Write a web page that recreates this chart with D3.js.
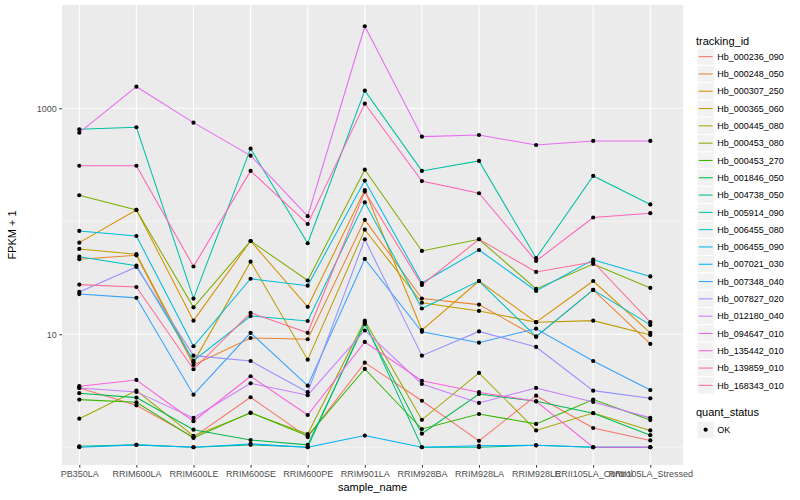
<html>

<head>
  <script src="https://d3js.org/d3.v7.min.js"></script>
  <style>
    body { margin: 0; background: white; }
    text { font-family: "Liberation Sans", Arial, sans-serif; }
  </style>
</head>

<body>
  <svg id="chart" width="800" height="500"></svg>

  <script>
    // ---- data (FPKM + 1) ----
    const samples = ["PB350LA", "RRIM600LA", "RRIM600LE", "RRIM600SE", "RRIM600PE", "RRIM901LA",
                     "RRIM928BA", "RRIM928LA", "RRIM928LE", "RRII105LA_Control", "RRII105LA_Stressed"];

    const trackingIds = ["Hb_000236_090", "Hb_000248_050", "Hb_000307_250", "Hb_000365_060", "Hb_000445_080",
                         "Hb_000453_080", "Hb_000453_270", "Hb_001846_050", "Hb_004738_050", "Hb_005914_090",
                         "Hb_006455_080", "Hb_006455_090", "Hb_007021_030", "Hb_007348_040", "Hb_007827_020",
                         "Hb_012180_040", "Hb_094647_010", "Hb_135442_010", "Hb_139859_010", "Hb_168343_010"];

    const hb000236_090 = [3.35, 2.35, 1.23, 2.77, 1.23, 5.61, 2.58, 1.14, 2.86, 1.48, 1.15];
    const hb000248_050 = [46.1, 50.0, 5.35, 9.27, 9.03, 103, 20.7, 18.3, 9.52, 24.7, 8.21];
    const hb000307_250 = [64.7, 126, 13.2, 66.9, 17.5, 189, 10.9, 29.6, 12.8, 29.6, 10.3];
    const hb000365_060 = [56.9, 51.1, 5.65, 43.9, 5.96, 84.3, 19.0, 16.1, 12.8, 13.2, 9.86];
    const hb000445_080 = [1.79, 3.17, 1.26, 2.01, 1.31, 13.2, 1.75, 4.55, 1.41, 2.01, 1.41];
    const hb000453_080 = [170, 126, 17.3, 66.9, 29.9, 286, 54.6, 69.3, 25.2, 41.9, 25.7];
    const hb000453_270 = [2.64, 2.50, 1.21, 2.03, 1.26, 4.93, 1.45, 1.97, 1.61, 2.64, 1.74];
    const hb001846_050 = [3.01, 2.75, 1.43, 1.16, 1.05, 12.3, 1.32, 2.96, 2.55, 2.00, 1.28];
    const hb004738_050 = [1.02, 1.05, 1.00, 1.05, 1.00, 12.8, 1.00, 1.00, 1.04, 1.00, 1.00];
    const hb005914_090 = [652, 679, 20.7, 439, 63.9, 1432, 279, 342, 47.3, 252, 141];
    const hb006455_080 = [48.6, 40.5, 5.84, 14.5, 13.1, 147, 16.9, 29.6, 9.52, 24.7, 12.1];
    const hb006455_090 = [82.1, 74.1, 7.83, 31.0, 26.9, 229, 28.4, 55.7, 24.2, 45.7, 32.5];
    const hb007021_030 = [1.00, 1.05, 1.00, 1.07, 1.00, 1.27, 1.00, 1.03, 1.04, 1.00, 1.00];
    const hb007348_040 = [22.7, 21.0, 2.92, 10.3, 3.51, 46.4, 10.5, 8.43, 11.2, 5.80, 3.21];
    const hb007827_020 = [23.7, 39.4, 6.47, 5.80, 3.07, 69.3, 6.47, 10.6, 7.72, 3.17, 2.71];
    const hb012180_040 = [3.35, 3.09, 1.82, 3.68, 2.89, 10.8, 3.63, 2.47, 3.35, 2.52, 1.82];
    const hb094647_010 = [608, 1552, 746, 381, 111, 5321, 561, 580, 473, 514, 514];
    const hb135442_010 = [3.47, 3.94, 1.70, 4.25, 1.93, 8.55, 3.88, 3.07, 2.55, 1.00, 1.00];
    const hb139859_010 = [310, 310, 39.8, 279, 94.6, 1099, 227, 177, 44.5, 108, 118];
    const hb168343_010 = [27.5, 26.2, 4.90, 15.5, 10.3, 183, 27.3, 69.3, 35.6, 43.6, 12.8];

    const seriesValues = [hb000236_090, hb000248_050, hb000307_250, hb000365_060, hb000445_080,
                          hb000453_080, hb000453_270, hb001846_050, hb004738_050, hb005914_090,
                          hb006455_080, hb006455_090, hb007021_030, hb007348_040, hb007827_020,
                          hb012180_040, hb094647_010, hb135442_010, hb139859_010, hb168343_010];

    const yTicks = [10, 1000];
    const yMinor = [1, 100];

    // ggplot default hue palette (polar LUV, l = 65, c = 100)
    function hueColor(h) {
      const L = 65, C = 100;
      const U = C * Math.cos(h * Math.PI / 180), V = C * Math.sin(h * Math.PI / 180);
      const Y = 100 * Math.pow((L + 16) / 116, 3);
      const u = U / (13 * L) + 0.1978398, v = V / (13 * L) + 0.4683363;
      const X = 9 * Y * u / (4 * v);
      const Z = -X / 3 - 5 * Y + 3 * Y / v;
      const g = t => {
        t = t > 0.00304 ? 1.055 * Math.pow(t, 1 / 2.4) - 0.055 : 12.92 * t;
        return Math.round(255 * Math.max(0, Math.min(1, t)));
      };
      return d3.rgb(g((3.240479 * X - 1.537150 * Y - 0.498535 * Z) / 100),
                    g((-0.969256 * X + 1.875992 * Y + 0.041556 * Z) / 100),
                    g((0.055648 * X - 0.204043 * Y + 1.057311 * Z) / 100)).formatHex();
    }
    const n = trackingIds.length;
    const colorScale = d3.scaleOrdinal()
      .domain(trackingIds)
      .range(trackingIds.map((d, i) => hueColor(15 + 360 * i / n)));

    // ---- layout ----
    let svg = d3.select("svg#chart");
    const panel = { left: 62, right: 683, top: 5, bottom: 465 };

    const xScale = d3.scalePoint().domain(samples).range([79.3, 650.3]);
    const yScale = d3.scaleLog()
      .domain([Math.pow(10, -0.157), Math.pow(10, 3.914)])
      .range([panel.bottom, panel.top]);

    // panel background + grid
    svg.append("rect")
      .attr("x", panel.left).attr("y", panel.top)
      .attr("width", panel.right - panel.left).attr("height", panel.bottom - panel.top)
      .attr("fill", "#EBEBEB");

    svg.selectAll("line.minor").data(yMinor).join("line")
      .attr("class", "minor")
      .attr("x1", panel.left).attr("x2", panel.right)
      .attr("y1", d => yScale(d)).attr("y2", d => yScale(d))
      .attr("stroke", "white").attr("stroke-width", 0.55);

    svg.selectAll("line.majorY").data(yTicks).join("line")
      .attr("class", "majorY")
      .attr("x1", panel.left).attr("x2", panel.right)
      .attr("y1", d => yScale(d)).attr("y2", d => yScale(d))
      .attr("stroke", "white").attr("stroke-width", 1.1);

    svg.selectAll("line.majorX").data(samples).join("line")
      .attr("class", "majorX")
      .attr("x1", d => xScale(d)).attr("x2", d => xScale(d))
      .attr("y1", panel.top).attr("y2", panel.bottom)
      .attr("stroke", "white").attr("stroke-width", 1.1);

    // lines
    const series = trackingIds.map((id, i) => ({
      id: id,
      values: samples.map((s, j) => ({ sample: s, value: seriesValues[i][j] }))
    }));

    const line = d3.line()
      .x(d => xScale(d.sample))
      .y(d => yScale(d.value));

    svg.append("g").selectAll("path").data(series).join("path")
      .attr("d", d => line(d.values))
      .attr("fill", "none")
      .attr("stroke", d => colorScale(d.id))
      .attr("stroke-width", 1.05);

    // points
    svg.append("g").selectAll("circle")
      .data(series.flatMap(d => d.values))
      .join("circle")
      .attr("cx", d => xScale(d.sample))
      .attr("cy", d => yScale(d.value))
      .attr("r", 2.1)
      .attr("fill", "black");

    // axes
    let yAxis = d3.axisLeft(yScale).tickValues(yTicks).tickSize(2.7).tickPadding(2.5)
      .tickFormat(d3.format("d"));
    let yg = svg.append("g").attr("transform", `translate(${panel.left},0)`).call(yAxis);
    yg.select(".domain").remove();
    yg.selectAll("line").attr("stroke", "#333333");
    yg.selectAll("text").attr("fill", "#4D4D4D").style("font-size", "9px");

    let xAxis = d3.axisBottom(xScale).tickSize(2.7).tickPadding(2.5);
    let xg = svg.append("g").attr("transform", `translate(0,${panel.bottom})`).call(xAxis);
    xg.select(".domain").remove();
    xg.selectAll("line").attr("stroke", "#333333");
    xg.selectAll("text").attr("fill", "#4D4D4D").style("font-size", "9px");

    // axis titles
    svg.append("text")
      .attr("text-anchor", "middle")
      .attr("x", (panel.left + panel.right) / 2)
      .attr("y", 491)
      .style("font-size", "11px")
      .text("sample_name");

    svg.append("text")
      .attr("text-anchor", "middle")
      .attr("transform", `translate(16,${(panel.top + panel.bottom) / 2}) rotate(-90)`)
      .style("font-size", "11px")
      .text("FPKM + 1");

    // legend: tracking_id
    const keySize = 17.3;
    let legend = svg.append("g").attr("transform", "translate(697,48)");
    legend.append("text")
      .attr("x", -1).attr("y", -3.5)
      .style("font-size", "11px")
      .text("tracking_id");

    trackingIds.forEach((d, i) => {
      legend.append("rect")
        .attr("x", 0).attr("y", keySize * i)
        .attr("width", keySize).attr("height", keySize)
        .attr("fill", "#F2F2F2").attr("stroke", "white").attr("stroke-width", 1);
      legend.append("line")
        .attr("x1", 1.7).attr("x2", keySize - 1.7)
        .attr("y1", keySize * i + keySize / 2).attr("y2", keySize * i + keySize / 2)
        .attr("stroke", colorScale(d)).attr("stroke-width", 1.05);
      legend.append("text")
        .attr("x", keySize + 3).attr("y", keySize * i + keySize / 2 + 3.2)
        .style("font-size", "9px")
        .text(d);
    });

    // legend: quant_status
    let legend2 = svg.append("g").attr("transform", "translate(697,421)");
    legend2.append("text")
      .attr("x", -1).attr("y", -5)
      .style("font-size", "11px")
      .text("quant_status");
    legend2.append("rect")
      .attr("x", 0).attr("y", 0)
      .attr("width", keySize).attr("height", keySize)
      .attr("fill", "#F2F2F2").attr("stroke", "white");
    legend2.append("circle")
      .attr("cx", keySize / 2).attr("cy", keySize / 2)
      .attr("r", 2.1).attr("fill", "black");
    legend2.append("text")
      .attr("x", keySize + 3).attr("y", keySize / 2 + 3.2)
      .style("font-size", "9px")
      .text("OK");
  </script>
</body>

</html>
